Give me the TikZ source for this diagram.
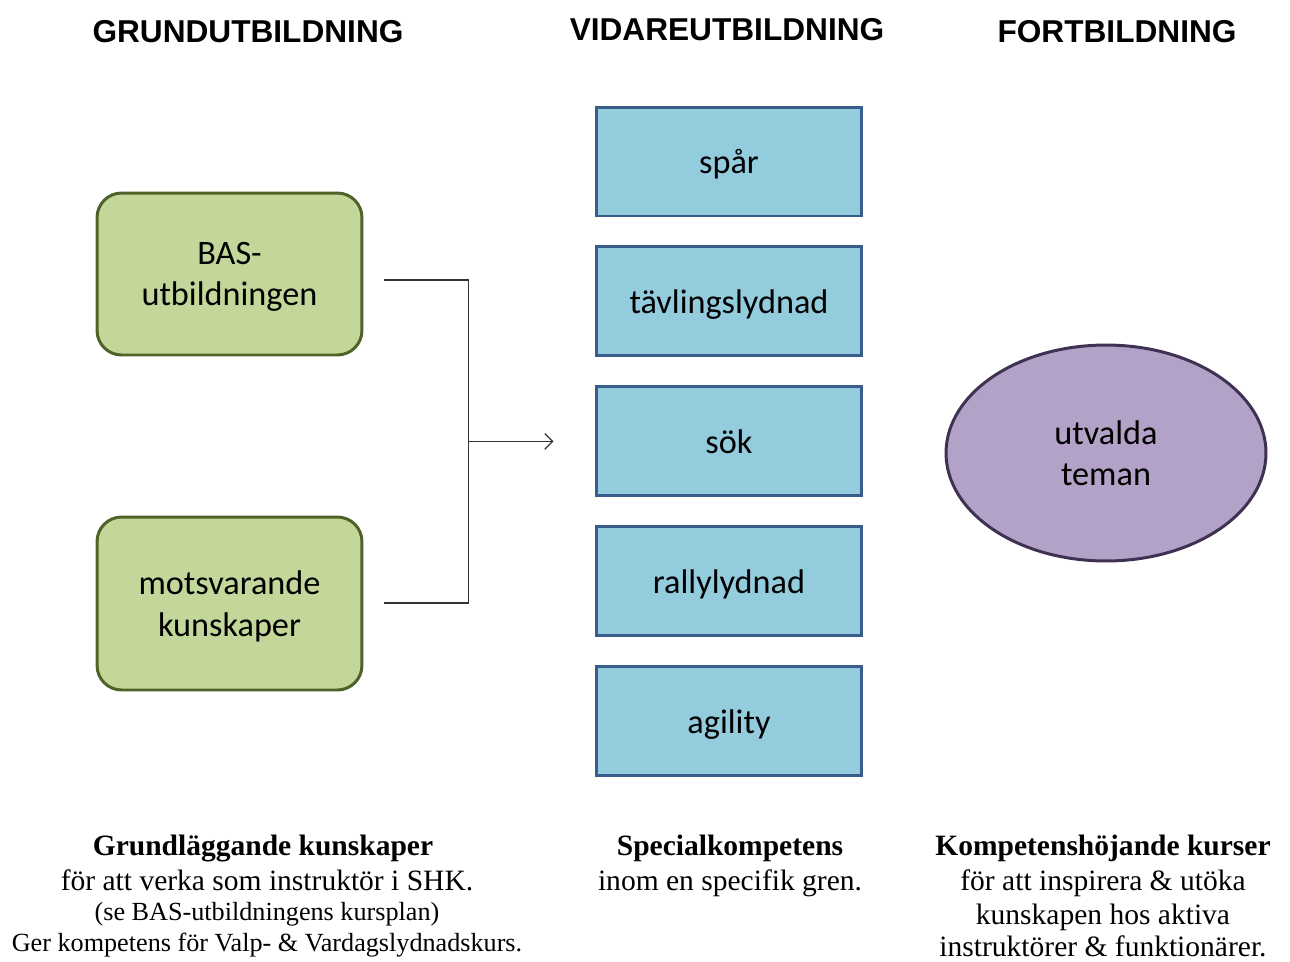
\documentclass[tikz,border=0pt]{standalone}
\usepackage{fontspec}
\setmainfont{Liberation Serif}
\newfontfamily\boxfont{Carlito}
\newfontfamily\headfont{Liberation Sans}
\usetikzlibrary{positioning,shapes.geometric,arrows.meta}

\definecolor{grundfill}{RGB}{196,215,155}
\definecolor{grunddraw}{RGB}{79,98,40}
\definecolor{vidarefill}{RGB}{147,204,221}
\definecolor{vidaredraw}{RGB}{56,93,138}
\definecolor{fortfill}{RGB}{178,162,199}
\definecolor{fortdraw}{RGB}{63,49,81}

\begin{document}
\begin{tikzpicture}[x=0.02cm, y=-0.02cm,
  heading/.style={font=\headfont\bfseries\fontsize{18}{21}\selectfont, anchor=base},
  grundbox/.style={draw=grunddraw, fill=grundfill, line width=1.7pt, rounded corners=14pt,
    minimum width=5.3cm, align=center, text depth=0pt,
    font=\boxfont\fontsize{19.5}{23.5}\selectfont},
  vidarebox/.style={draw=vidaredraw, fill=vidarefill, line width=1.7pt, text depth=0pt,
    minimum width=5.32cm, minimum height=2.18cm, font=\boxfont\fontsize{19.5}{23.5}\selectfont},
  fortellipse/.style={ellipse, draw=fortdraw, fill=fortfill, line width=1.7pt,
    minimum width=6.4cm, minimum height=4.32cm, align=center, inner sep=0pt,
    font=\boxfont\fontsize{19.5}{23.5}\selectfont},
  maintext/.style={anchor=base, inner sep=1pt, font=\fontsize{16.8}{20}\selectfont},
  smalltext/.style={anchor=base, inner sep=1pt, font=\fontsize{14.9}{17}\selectfont},
  link/.style={line width=0.7pt, draw=black!80},
  node distance=0.56cm]
  \useasboundingbox (0,0) rectangle (1290,961);

  % Headings
  \node[heading] (hgrund) at (248,42) {GRUNDUTBILDNING};
  \node[heading] (hvidare) at (727,40) {VIDAREUTBILDNING};
  \node[heading] (hfort) at (1117,42) {FORTBILDNING};

  % Grundutbildning boxes
  \node[grundbox, minimum height=3.24cm] (bas) at (229.5,274) {BAS-\\utbildningen};
  \node[grundbox, minimum height=3.46cm] (motsv) at (229.5,603.5) {motsvarande\\kunskaper};

  % Vidareutbildning boxes
  \node[vidarebox] (spar) at (729,161.5) {spår};
  \node[vidarebox, below=of spar] (tavling) {tävlingslydnad};
  \node[vidarebox, below=of tavling] (sok) {sök};
  \node[vidarebox, below=of sok] (rally) {rallylydnad};
  \node[vidarebox, below=of rally] (agility) {agility};

  % Fortbildning ellipse
  \node[fortellipse] (teman) at (1106,453) {utvalda\\teman};

  % Connector
  \coordinate (basend) at (384,280);
  \coordinate (motsvend) at (384,603);
  \coordinate[left=2.52cm of sok.west] (joint);
  \draw[link] (basend) -| (joint) |- (motsvend);
  \draw[link, -{Straight Barb[length=4.5pt,width=9pt]}, shorten >=0.82cm] (joint) -- (sok.west);

  % Grundutbildning text
  \node[maintext] (gl1) at (263,855) {\textbf{Grundläggande kunskaper}};
  \node[maintext] (gl2) at (267,890) {för att verka som instruktör i SHK.};
  \node[smalltext] (gl3) at (267,920) {(se BAS-utbildningens kursplan)};
  \node[smalltext] (gl4) at (267,951) {Ger kompetens för Valp- \& Vardagslydnadskurs.};

  % Vidareutbildning text
  \node[maintext] (sk1) at (730,855) {\textbf{Specialkompetens}};
  \node[maintext] (sk2) at (730,890) {inom en specifik gren.};

  % Fortbildning text
  \node[maintext] (kh1) at (1103,855) {\textbf{Kompetenshöjande kurser}};
  \node[maintext] (kh2) at (1103,890) {för att inspirera \& utöka};
  \node[maintext] (kh3) at (1103,924) {kunskapen hos aktiva};
  \node[maintext] (kh4) at (1103,956) {instruktörer \& funktionärer.};
\end{tikzpicture}
\end{document}
